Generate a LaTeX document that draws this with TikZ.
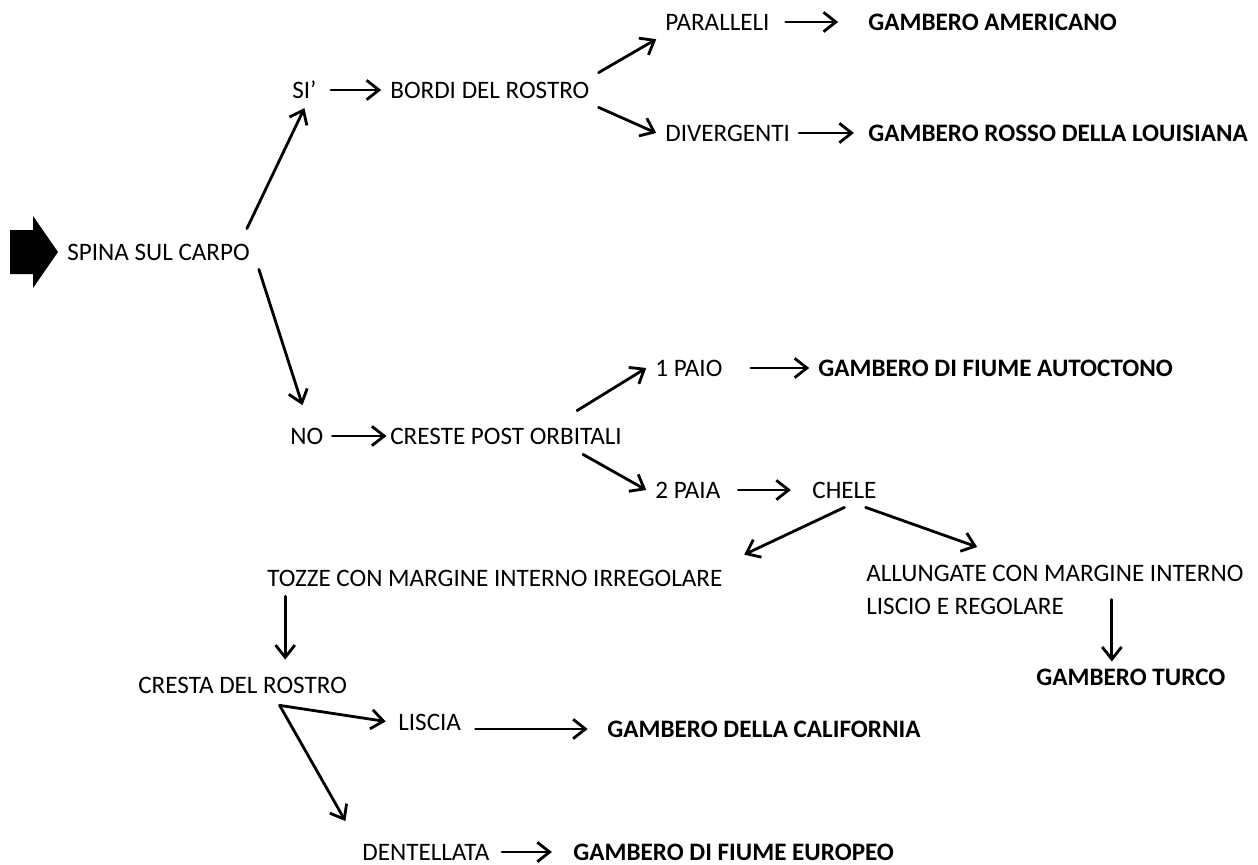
\documentclass[tikz,border=0pt]{standalone}
\usepackage{fontspec}
\setmainfont{Carlito}
\usetikzlibrary{arrows.meta,calc}

\begin{document}
\begin{tikzpicture}[x=0.02cm,y=-0.02cm,>={Straight Barb[length=7pt,width=11pt]},line cap=round,line join=round,
  lbl/.style={anchor=west,inner sep=5pt,xshift=-5pt,font=\fontsize{14.3}{18.7}\selectfont},
  res/.style={lbl,font=\fontsize{14.3}{18.7}\selectfont\bfseries},
  arr/.style={->,line width=1.6pt}]
  \useasboundingbox (0,0) rectangle (1258,865);

  % start
  \fill (10,230) -- (33,230) -- (33,216) -- (58,252) -- (33,288) -- (33,274) -- (10,274) -- cycle;
  \node[lbl] (spina) at (67,252) {SPINA SUL CARPO};

  % upper branch
  \node[lbl] (si) at (292,90) {SI’};
  \node[lbl] (bordi) at (390,90) {BORDI DEL ROSTRO};
  \node[lbl] (paral) at (665,22) {PARALLELI};
  \node[lbl] (diverg) at (665,133) {DIVERGENTI};
  \node[res] (americ) at (868,22) {GAMBERO AMERICANO};
  \node[res] (louis) at (868,133) {GAMBERO ROSSO DELLA LOUISIANA};

  % lower branch
  \node[lbl] (no) at (290,436) {NO};
  \node[lbl] (creste) at (390,436) {CRESTE POST ORBITALI};
  \node[lbl] (paio) at (655,368) {1 PAIO};
  \node[res] (autoct) at (818,368) {GAMBERO DI FIUME AUTOCTONO};
  \node[lbl] (paia) at (655,490) {2 PAIA};
  \node[lbl] (chele) at (812,490) {CHELE};
  \node[lbl] (tozze) at (267,578) {TOZZE CON MARGINE INTERNO IRREGOLARE};
  \node[lbl,align=left,anchor=north west] (allung) at (866,556) {ALLUNGATE CON MARGINE INTERNO\\LISCIO E REGOLARE};
  \node[res] (turco) at (1036,677) {GAMBERO TURCO};
  \node[lbl] (cresta) at (138,685) {CRESTA DEL ROSTRO};
  \node[lbl] (liscia) at (398,722) {LISCIA};
  \node[res] (calif) at (607,729) {GAMBERO DELLA CALIFORNIA};
  \node[lbl] (dentel) at (362,852) {DENTELLATA};
  \node[res] (europ) at (573,852) {GAMBERO DI FIUME EUROPEO};
  \coordinate (fork) at ($(cresta.south)+(37,3)$);

  % arrows
  \draw[arr] ([shift={(-12,-6)}]spina.north east) -- (si.south);
  \draw[arr,shorten >=8pt] (spina.south east) -- (no.north);
  \draw[arr,shorten <=3pt] (si.east) -- (bordi.west);
  \draw[arr] (bordi.north east) -- (paral.south west);
  \draw[arr] (bordi.south east) -- (diverg.west);
  \draw[arr,shorten <=4pt,shorten >=12pt] (paral.east) -- (americ.west);
  \draw[arr,shorten >=3pt] (diverg.east) -- (louis.west);

  \draw[arr,shorten >=-3pt] (no.east) -- (creste.west);
  \draw[arr] ([shift={(-54,-8)}]creste.north east) -- (paio.west);
  \draw[arr] ([shift={(-48,1)}]creste.south east) -- (paia.west);
  \draw[arr,shorten <=11pt] (paio.east) -- (autoct.west);
  \draw[arr,shorten <=5pt,shorten >=7pt] (paia.east) -- (chele.west);
  \draw[arr,shorten >=8pt] (chele.south) -- (tozze.north east);
  \draw[arr] ([shift={(-20,0)}]chele.south east) -- ([shift={(120,-9)}]allung.north west);
  \draw[arr] ($(tozze.south west)+(27,1)$) -- ($(tozze.south west |- cresta.north)+(27,-8)$);
  \draw[arr] ($(allung.south -| turco.north)+(-19,-24)$) -- ($(turco.north)+(-19,2)$);
  \draw[arr,shorten >=2pt] (fork) -- (liscia.west);
  \draw[arr,shorten >=9pt] (fork) -- (dentel.north west);
  \draw[arr,shorten <=3pt,shorten >=6pt] (liscia.east |- calif.west) -- (calif.west);
  \draw[arr,shorten <=2pt,shorten >=7pt] (dentel.east) -- (europ.west);
\end{tikzpicture}
\end{document}
